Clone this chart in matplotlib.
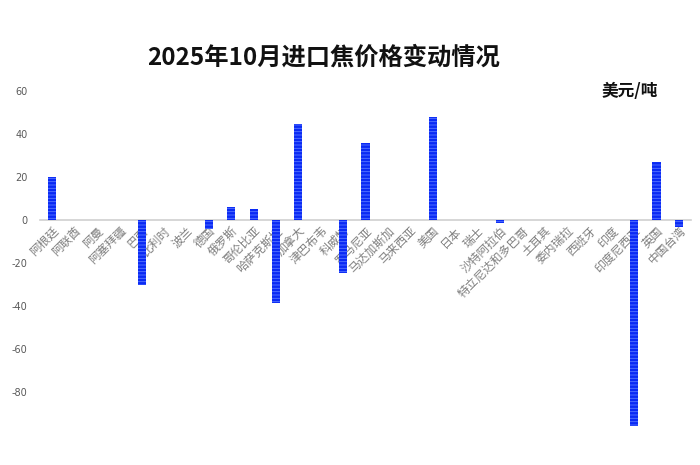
import matplotlib
matplotlib.use("Agg")
import matplotlib.pyplot as plt
import numpy as np

plt.rcParams['font.family'] = ['Noto Sans CJK SC', 'DejaVu Sans']
plt.rcParams['hatch.linewidth'] = 0.6
plt.rcParams['axes.unicode_minus'] = False

categories = ["阿根廷", "阿联酋", "阿曼", "阿塞拜疆", "巴西", "比利时", "波兰", "德国",
              "俄罗斯", "哥伦比亚", "哈萨克斯坦", "加拿大", "津巴布韦", "科威特", "罗马尼亚",
              "马达加斯加", "马来西亚", "美国", "日本", "瑞士", "沙特阿拉伯", "特立尼达和多巴哥",
              "土耳其", "委内瑞拉", "西班牙", "印度", "印度尼西亚", "英国", "中国台湾"]
values = [20, 0, 0, 0, -30, 0, 0, -4,
          6, 5, -38.5, 44.7, 0, -24.5, 35.8,
          0, 0, 47.8, 0, 0, -1.5, 0,
          0, 0, 0, 0, -95.7, 27.1, -3]
yticks = [-80, -60, -40, -20, 0, 20, 40, 60]

fig = plt.figure(figsize=(7, 4.65), dpi=100)
ax = fig.add_axes([40/700, 1-429/465, 651/700, 338/465])

x = np.arange(len(categories))
ax.bar(x, values, width=0.36, color='#0a2af5', edgecolor='#5a78ff',
       linewidth=0, hatch='-----', zorder=3)

ax.set_xlim(-0.54, len(categories) - 0.46)
ax.set_ylim(-97, 60)
ax.set_yticks(yticks)
ax.set_yticklabels([str(v) for v in yticks], fontsize=7, color='#595959',
                   family=['DejaVu Sans'])
ax.tick_params(axis='y', length=0, pad=9)

for s in ['top', 'right', 'left']:
    ax.spines[s].set_visible(False)
ax.spines['bottom'].set_position(('data', 0))
ax.spines['bottom'].set_color('#d0d0d0')
ax.spines['bottom'].set_linewidth(1.2)
ax.spines['bottom'].set_zorder(1)

ax.set_xticks(x)
ax.set_xticklabels(categories, rotation=45, ha='right', va='top',
                   rotation_mode='anchor', fontsize=8.5, color='#7f7f7f')
ax.tick_params(axis='x', length=0, pad=3)

fig.text(324/700, 1-58/465, "2025年10月进口焦价格变动情况", ha='center', va='center',
         fontsize=17.5, fontweight='bold', color='#111111')
fig.text(630/700, 1-91/465, "美元/吨", ha='center', va='center',
         fontsize=12, fontweight='bold', color='#111111')

fig.savefig("out.png", dpi=100)
